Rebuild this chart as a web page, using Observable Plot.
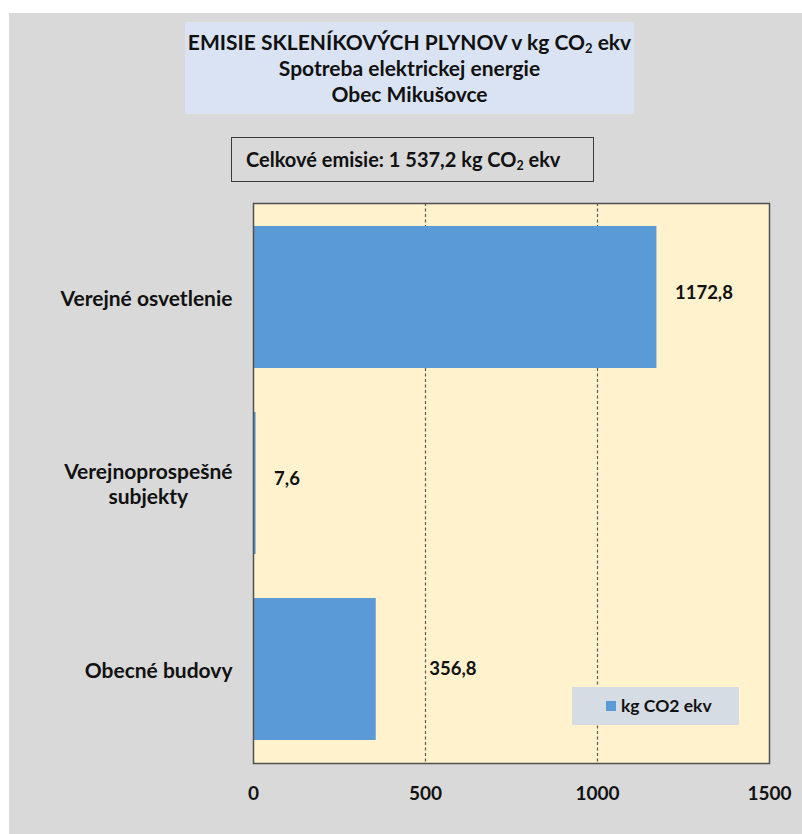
<!DOCTYPE html>
<html>
<head>
<meta charset="utf-8">
<script src="https://cdn.jsdelivr.net/npm/d3@7"></script>
<script src="https://cdn.jsdelivr.net/npm/@observablehq/plot@0.6"></script>
<style>
  html, body { margin: 0; padding: 0; background: #ffffff; }
  #wrap { position: relative; width: 802px; height: 834px; overflow: hidden; font-family: Lato, "Open Sans", sans-serif; }
  #bg { position: absolute; left: 9px; top: 13px; right: 0; bottom: 0; background: #d9d9d9; }
  #chart { position: absolute; left: 0; top: 0; }
  #title { position: absolute; left: 185px; top: 22px; width: 449px; height: 92px; background: #dae3f3;
           text-align: center; font-weight: bold; font-size: 21px; line-height: 26px; color: #111; box-sizing: border-box; padding-top: 7px; white-space: nowrap; }
  #total { position: absolute; left: 231px; top: 137px; width: 363px; height: 45px; background: #d9d9d9;
           border: 1.5px solid #3a3a3a; box-sizing: border-box; font-weight: bold; font-size: 20px; line-height: 42px;
           text-align: left; color: #111; padding-left: 14px; white-space: nowrap; }
  sub { font-size: 0.62em; vertical-align: -0.25em; line-height: 0; }
  #legend { position: absolute; left: 572px; top: 687px; width: 167px; height: 38px; background: #d6dce4;
            font-weight: bold; font-size: 17.5px; color: #111; }
  #legend .sw { position: absolute; left: 34px; top: 14px; width: 10px; height: 10px; background: #5b9bd5; }
  #legend .lt { position: absolute; left: 49px; top: 0; line-height: 38px; }
</style>
</head>
<body>
<div id="wrap">
  <div id="bg"></div>
  <div id="chart"></div>
  <div id="title"></div>
  <div id="total"></div>
  <div id="legend"><div class="sw"></div><div class="lt"></div></div>
</div>
<script>
// ---- data ----
const categories = ["Verejné osvetlenie", "Verejnoprospešné subjekty", "Obecné budovy"];
const values = [1172.8, 7.6, 356.8];
const xTicks = [0, 500, 1000, 1500];
const titleLines = ["EMISIE SKLENÍKOVÝCH PLYNOV v kg CO<sub>2</sub> ekv", "Spotreba elektrickej energie", "Obec Mikušovce"];
const totalText = "Celkové emisie: 1 537,2 kg CO<sub>2</sub> ekv";
const seriesName = "kg CO2 ekv";
const categoryLabels = {"Verejnoprospešné subjekty": "Verejnoprospešné\nsubjekty"};

const data = categories.map((c, i) => ({cat: c, value: values[i]}));
const fmt = v => v.toFixed(1).replace(".", ",");
const farLabel = d => d.cat === "Obecné budovy";

document.getElementById("title").innerHTML = titleLines.join("<br>");
document.getElementById("total").innerHTML = totalText;
document.querySelector("#legend .lt").textContent = seriesName;

const labelStyle = {y: "cat", x: "value", text: d => fmt(d.value), textAnchor: "start",
  fontSize: 18.5, fontWeight: "bold", fill: "#111"};

const chart = Plot.plot({
  width: 802,
  height: 834,
  marginTop: 203,
  marginBottom: 71,
  marginLeft: 253,
  marginRight: 33,
  style: {background: "transparent", fontFamily: "Lato, 'Open Sans', sans-serif", color: "#111"},
  x: {domain: [0, 1500], ticks: xTicks},
  y: {domain: categories, paddingInner: 0.234, paddingOuter: 0.117},
  marks: [
    Plot.frame({fill: "#fff2cc"}),
    Plot.ruleX(xTicks.slice(1, -1), {stroke: "#595959", strokeWidth: 1.2, strokeDasharray: "3,2.5"}),
    Plot.barX(data, {y: "cat", x: "value", fill: "#5b9bd5"}),
    Plot.text(data.filter(d => !farLabel(d)), {...labelStyle, dx: 18, dy: -4}),
    Plot.text(data.filter(farLabel), {...labelStyle, dx: 53}),
    Plot.frame({stroke: "#505050", strokeWidth: 1.5}),
    Plot.axisX({ticks: xTicks, tickSize: 0, tickPadding: 23, fontSize: 19, fontWeight: "bold", label: null, tickFormat: d => String(d)}),
    Plot.axisY({tickSize: 0, tickPadding: 21, fontSize: 21, fontWeight: "bold", label: null, lineHeight: 1.2,
      tickFormat: d => categoryLabels[d] || d})
  ]
});
document.getElementById("chart").appendChild(chart);

// center multi-line category labels within their right-aligned block (like the original)
chart.querySelectorAll("text").forEach(t => {
  const spans = t.querySelectorAll("tspan");
  if (spans.length > 1) {
    let maxW = 0;
    spans.forEach(s => { maxW = Math.max(maxW, s.getComputedTextLength()); });
    t.setAttribute("text-anchor", "middle");
    spans.forEach(s => s.setAttribute("x", -maxW / 2));
  }
});
</script>
</body>
</html>
